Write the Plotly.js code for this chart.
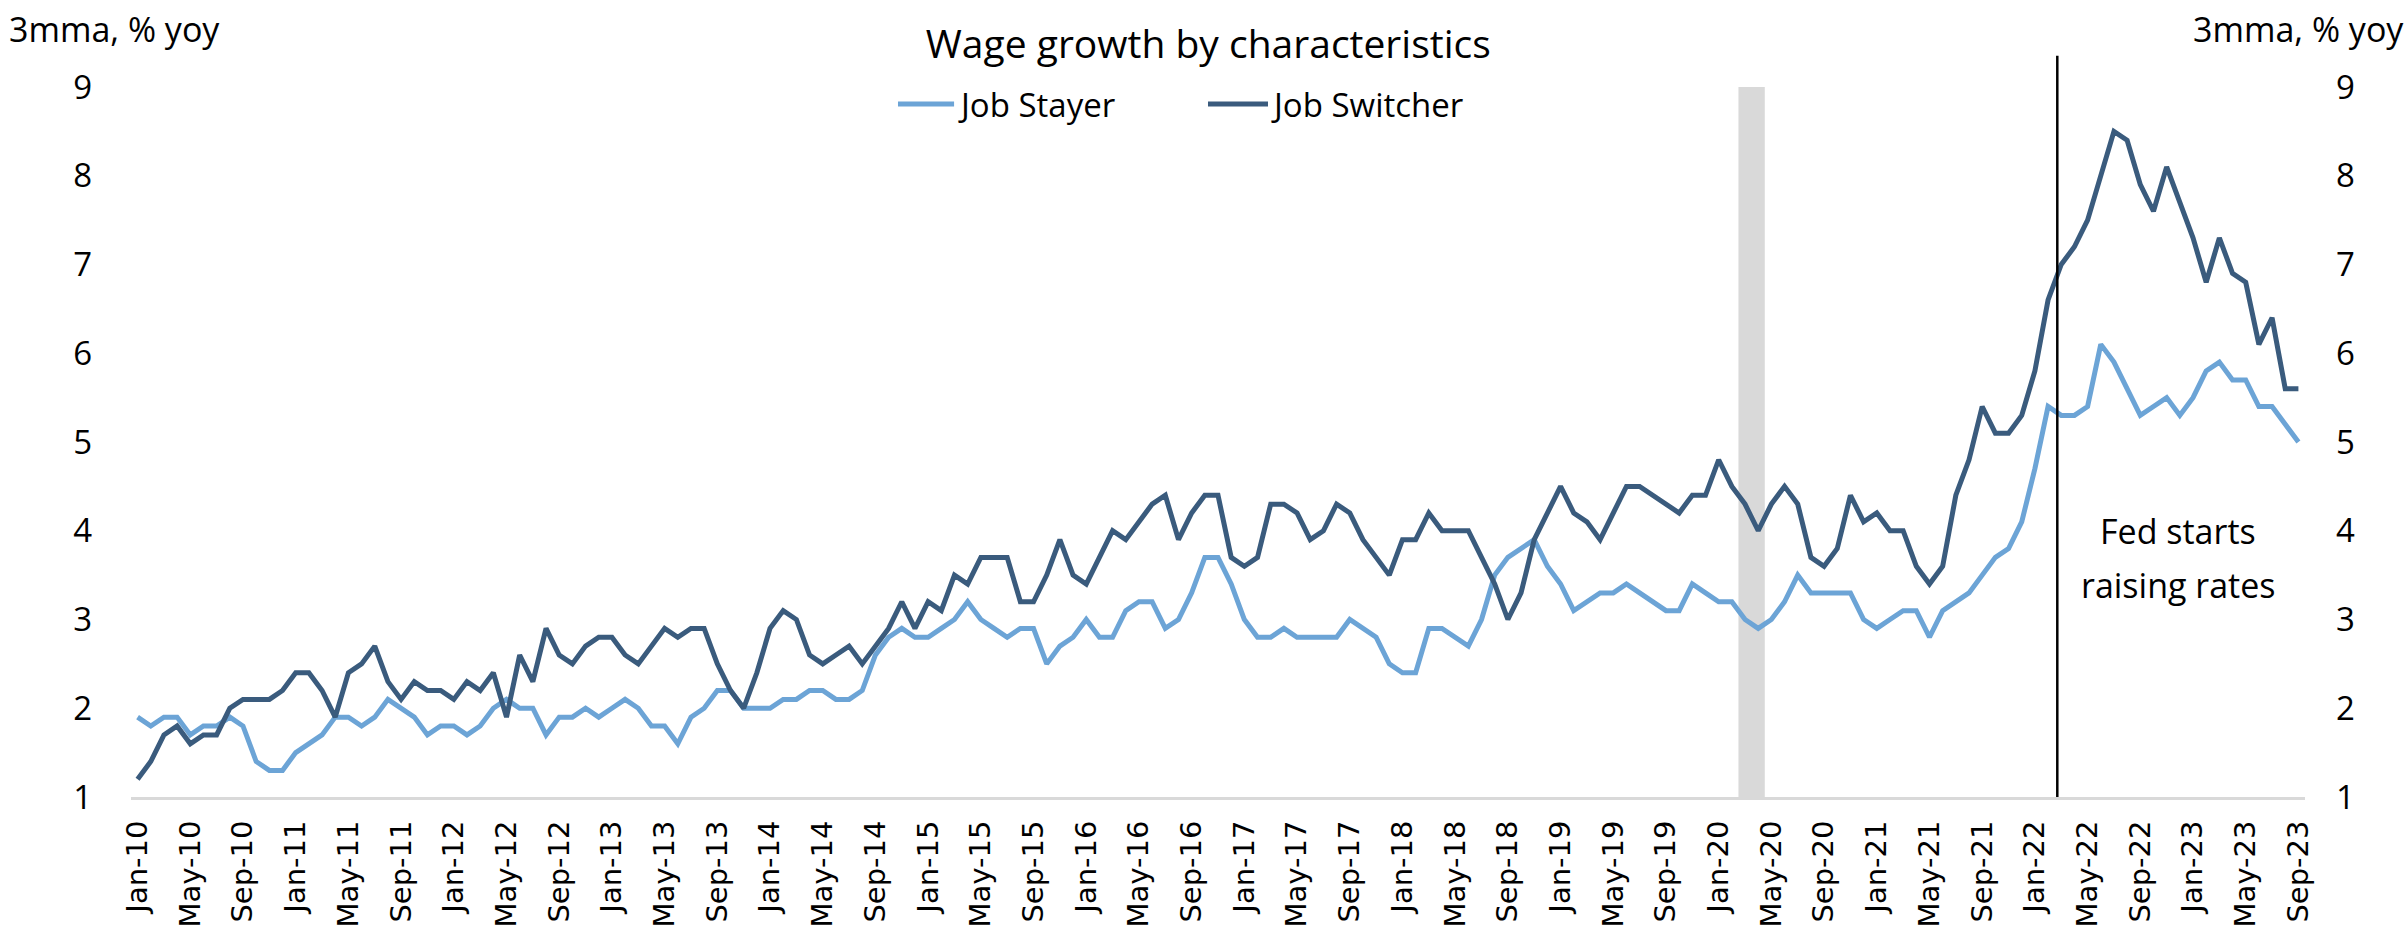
<!DOCTYPE html>
<html><head><meta charset="utf-8">
<script src="https://cdn.plot.ly/plotly-3.0.1.min.js"></script>
<style>html,body{margin:0;padding:0;background:#fff}#chart{width:2407px;height:938px}</style>
</head><body><div id="chart"></div>
<script>
const monthNames = ['Jan','Feb','Mar','Apr','May','Jun','Jul','Aug','Sep','Oct','Nov','Dec'];
const startYear = 2010;
const monthCount = 165; // Jan-10 .. Sep-23
const months = [];
for (let i = 0; i < monthCount; i++) {
  const y = startYear + Math.floor(i / 12);
  months.push(monthNames[i % 12] + '-' + String(y % 100).padStart(2, '0'));
}

const jobStayer = [
  1.9,1.8,1.9,1.9,1.7,1.8,1.8,1.9,1.8,1.4,
  1.3,1.3,1.5,1.6,1.7,1.9,1.9,1.8,1.9,2.1,
  2.0,1.9,1.7,1.8,1.8,1.7,1.8,2.0,2.1,2.0,
  2.0,1.7,1.9,1.9,2.0,1.9,2.0,2.1,2.0,1.8,
  1.8,1.6,1.9,2.0,2.2,2.2,2.0,2.0,2.0,2.1,
  2.1,2.2,2.2,2.1,2.1,2.2,2.6,2.8,2.9,2.8,
  2.8,2.9,3.0,3.2,3.0,2.9,2.8,2.9,2.9,2.5,
  2.7,2.8,3.0,2.8,2.8,3.1,3.2,3.2,2.9,3.0,
  3.3,3.7,3.7,3.4,3.0,2.8,2.8,2.9,2.8,2.8,
  2.8,2.8,3.0,2.9,2.8,2.5,2.4,2.4,2.9,2.9,
  2.8,2.7,3.0,3.5,3.7,3.8,3.9,3.6,3.4,3.1,
  3.2,3.3,3.3,3.4,3.3,3.2,3.1,3.1,3.4,3.3,
  3.2,3.2,3.0,2.9,3.0,3.2,3.5,3.3,3.3,3.3,
  3.3,3.0,2.9,3.0,3.1,3.1,2.8,3.1,3.2,3.3,
  3.5,3.7,3.8,4.1,4.7,5.4,5.3,5.3,5.4,6.1,
  5.9,5.6,5.3,5.4,5.5,5.3,5.5,5.8,5.9,5.7,
  5.7,5.4,5.4,5.2,5.0
];

const jobSwitcher = [
  1.2,1.4,1.7,1.8,1.6,1.7,1.7,2.0,2.1,2.1,
  2.1,2.2,2.4,2.4,2.2,1.9,2.4,2.5,2.7,2.3,
  2.1,2.3,2.2,2.2,2.1,2.3,2.2,2.4,1.9,2.6,
  2.3,2.9,2.6,2.5,2.7,2.8,2.8,2.6,2.5,2.7,
  2.9,2.8,2.9,2.9,2.5,2.2,2.0,2.4,2.9,3.1,
  3.0,2.6,2.5,2.6,2.7,2.5,2.7,2.9,3.2,2.9,
  3.2,3.1,3.5,3.4,3.7,3.7,3.7,3.2,3.2,3.5,
  3.9,3.5,3.4,3.7,4.0,3.9,4.1,4.3,4.4,3.9,
  4.2,4.4,4.4,3.7,3.6,3.7,4.3,4.3,4.2,3.9,
  4.0,4.3,4.2,3.9,3.7,3.5,3.9,3.9,4.2,4.0,
  4.0,4.0,3.7,3.4,3.0,3.3,3.9,4.2,4.5,4.2,
  4.1,3.9,4.2,4.5,4.5,4.4,4.3,4.2,4.4,4.4,
  4.8,4.5,4.3,4.0,4.3,4.5,4.3,3.7,3.6,3.8,
  4.4,4.1,4.2,4.0,4.0,3.6,3.4,3.6,4.4,4.8,
  5.4,5.1,5.1,5.3,5.8,6.6,7.0,7.2,7.5,8.0,
  8.5,8.4,7.9,7.6,8.1,7.7,7.3,6.8,7.3,6.9,
  6.8,6.1,6.4,5.6,5.6
];

const tickLabels = months.filter((m, i) => i % 4 === 0);
const yTicks = [1,2,3,4,5,6,7,8,9];
const seriesNames = ['Job Stayer', 'Job Switcher'];
const colors = ['#6CA4D6', '#3A5B7D'];

const FONT = 'Open Sans, Noto Sans, sans-serif';

const traces = [
  {x: months, y: jobStayer, type: 'scatter', mode: 'lines', name: seriesNames[0],
   line: {color: colors[0], width: 5}, yaxis: 'y'},
  {x: months, y: jobSwitcher, type: 'scatter', mode: 'lines', name: seriesNames[1],
   line: {color: colors[1], width: 5}, yaxis: 'y2'}
];

const yAxisBase = {
  range: [1, 9], tickmode: 'array', tickvals: yTicks, ticktext: yTicks.map(String),
  showgrid: false, zeroline: false, showline: false, ticks: '',
  tickfont: {family: FONT, size: 33, color: '#000'}, fixedrange: true
};

const layout = {
  width: 2407, height: 938,
  margin: {l: 131, r: 102, t: 87, b: 141, pad: 0},
  paper_bgcolor: '#fff', plot_bgcolor: '#fff',
  showlegend: false,
  title: {text: 'Wage growth by characteristics', x: 0.502, xanchor: 'center',
          y: 1 - 44 / 938, yanchor: 'middle', font: {family: FONT, size: 39, color: '#000'}},
  xaxis: {
    type: 'category', range: [-0.5, 164.5],
    tickmode: 'array', tickvals: tickLabels, ticktext: tickLabels, tickangle: -90,
    tickfont: {family: 'DejaVu Sans, sans-serif', size: 29, color: '#000'},
    showline: true, linecolor: '#D9D9D9', linewidth: 3, ticks: '',
    showgrid: false, zeroline: false, ticklabelstandoff: 9, fixedrange: true
  },
  yaxis: Object.assign({}, yAxisBase, {side: 'left', ticklabelstandoff: 38}),
  yaxis2: Object.assign({}, yAxisBase, {side: 'right', overlaying: 'y', ticklabelstandoff: 30}),
  shapes: [
    {type: 'rect', xref: 'x', yref: 'paper', x0: 121.5, x1: 123.5, y0: 0, y1: 1,
     fillcolor: '#D9D9D9', line: {width: 0}, layer: 'below'},
    {type: 'line', xref: 'x', yref: 'paper', x0: 145.7, x1: 145.7, y0: 0, y1: 1.044,
     line: {color: '#000', width: 2.5}},
    // legend samples
    {type: 'line', xref: 'paper', yref: 'paper', x0: 0.3528, x1: 0.3786, y0: 0.976, y1: 0.976,
     line: {color: colors[0], width: 5}},
    {type: 'line', xref: 'paper', yref: 'paper', x0: 0.4954, x1: 0.5230, y0: 0.976, y1: 0.976,
     line: {color: colors[1], width: 5}}
  ],
  annotations: [
    {text: '3mma, % yoy', xref: 'paper', yref: 'paper', x: -0.0074, y: 1.0817,
     xanchor: 'center', yanchor: 'middle', showarrow: false,
     font: {family: FONT, size: 34, color: '#000'}},
    {text: '3mma, % yoy', xref: 'paper', yref: 'paper', x: 0.9968, y: 1.0817,
     xanchor: 'center', yanchor: 'middle', showarrow: false,
     font: {family: FONT, size: 34, color: '#000'}},
    {text: seriesNames[0], xref: 'paper', yref: 'paper', x: 0.3795, y: 0.976,
     xanchor: 'left', yanchor: 'middle', showarrow: false,
     font: {family: FONT, size: 33, color: '#000'}},
    {text: seriesNames[1], xref: 'paper', yref: 'paper', x: 0.5235, y: 0.976,
     xanchor: 'left', yanchor: 'middle', showarrow: false,
     font: {family: FONT, size: 33, color: '#000'}},
    {text: 'Fed starts', xref: 'paper', yref: 'paper', x: 0.9416, y: 0.3746,
     xanchor: 'center', yanchor: 'middle', showarrow: false,
     font: {family: FONT, size: 34, color: '#000'}},
    {text: 'raising rates', xref: 'paper', yref: 'paper', x: 0.9416, y: 0.2986,
     xanchor: 'center', yanchor: 'middle', showarrow: false,
     font: {family: FONT, size: 34, color: '#000'}}
  ]
};

Plotly.newPlot('chart', traces, layout, {staticPlot: true, displayModeBar: false});
</script>
</body></html>
